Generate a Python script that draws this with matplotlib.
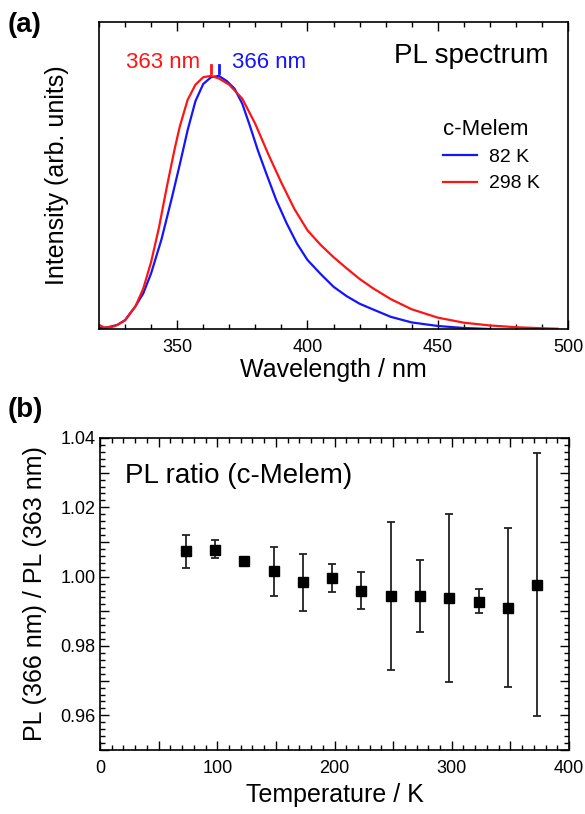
import numpy as np
import matplotlib.pyplot as plt
from matplotlib.ticker import MultipleLocator, FuncFormatter

plt.rcParams['font.family'] = ['Liberation Sans', 'DejaVu Sans']

# PL spectrum, 82 K (normalized)
wl_82 = [320, 323, 327, 330, 334, 337, 340, 344, 348, 351, 354, 357, 360, 363, 366,
         369, 372, 375, 378, 381, 384, 388, 392, 396, 400, 405, 410, 415, 420, 425,
         432, 440, 450, 460, 470]
pl_82 = [0.003, 0.006, 0.016, 0.035, 0.09, 0.141, 0.22, 0.355, 0.52, 0.65, 0.785, 0.9,
         0.968, 0.995, 1.0, 0.98, 0.95, 0.89, 0.80, 0.705, 0.62, 0.51, 0.418, 0.337,
         0.273, 0.218, 0.167, 0.13, 0.10, 0.078, 0.048, 0.026, 0.012, 0.004, 0.0]

# PL spectrum, 298 K (normalized)
wl_298 = [320, 322, 325, 327, 330, 334, 337, 340, 343, 346, 349, 351, 354, 357,
          360, 363, 366, 370, 375, 380, 385, 390, 395, 400, 405, 410, 415, 420, 425,
          432, 440, 450, 460, 470, 480, 490, 496]
pl_298 = [0.016, 0.006, 0.008, 0.016, 0.034, 0.09, 0.16, 0.265, 0.40, 0.56, 0.71,
          0.80, 0.905, 0.965, 0.995, 1.0, 0.99, 0.965, 0.91, 0.81, 0.69, 0.578, 0.474,
          0.39, 0.333, 0.284, 0.24, 0.198, 0.162, 0.118, 0.078, 0.045, 0.025, 0.014,
          0.007, 0.003, 0.001]

# PL ratio vs temperature
temp = [73, 98, 123, 148, 173, 198, 223, 248, 273, 298, 323, 348, 373]
ratio = [1.0073, 1.0078, 1.0046, 1.0015, 0.9984, 0.9995, 0.9960, 0.9943, 0.9944,
         0.9938, 0.9927, 0.9910, 0.9977]
ratio_lo = [1.0025, 1.0053, 1.0043, 0.9945, 0.9902, 0.9955, 0.9906, 0.9730, 0.9840,
            0.9697, 0.9895, 0.9681, 0.9598]
ratio_hi = [1.0120, 1.0105, 1.0049, 1.0086, 1.0065, 1.0037, 1.0014, 1.0157, 1.0049,
            1.0180, 0.9963, 1.0141, 1.0357]

fig = plt.figure(figsize=(5.85, 8.14), dpi=100)

# ---- (a) PL spectrum
ax1 = fig.add_axes([99/585, 1-329/814, 469/585, 307/814])
ax1.plot(wl_82, pl_82, color='#1414ff', lw=1.6, label='82 K')
ax1.plot(wl_298, pl_298, color='#ff1414', lw=1.6, label='298 K')
ax1.set_xlim(320, 500)
ax1.set_ylim(0, 1.213)
ax1.xaxis.set_major_locator(MultipleLocator(50))
ax1.xaxis.set_minor_locator(MultipleLocator(10))
ax1.tick_params(axis='x', which='both', direction='in', top=True, labelsize=13, pad=7)
ax1.tick_params(axis='x', which='major', length=6.5, width=1)
ax1.tick_params(axis='x', which='minor', length=3.5, width=1)
ax1.tick_params(axis='y', which='both', left=False, right=False, labelleft=False)
for s in ax1.spines.values():
    s.set_linewidth(1.2)
ax1.set_xlabel('Wavelength / nm', fontsize=18)
ax1.xaxis.set_label_coords(0.5, -0.094)
ax1.set_ylabel('Intensity (arb. units)', fontsize=18)
ax1.yaxis.set_label_coords(-0.064, 0.5)

ax1.plot([363, 363], [1.013, 1.045], color='#ff1414', lw=2)
ax1.plot([366, 366], [1.013, 1.045], color='#1414ff', lw=2)
ax1.text(358.8, 1.032, '363 nm', color='#ff1414', fontsize=16, ha='right', va='baseline')
ax1.text(371, 1.032, '366 nm', color='#1414ff', fontsize=16, ha='left', va='baseline')
ax1.text(0.629, 0.866, 'PL spectrum', transform=ax1.transAxes, fontsize=20,
         ha='left', va='baseline')

leg = ax1.legend(title='c-Melem', loc='upper left', bbox_to_anchor=(0.734, 0.685),
                 frameon=False, fontsize=14, title_fontsize=16, handlelength=1.75,
                 handletextpad=0.6, labelspacing=0.45, borderpad=0, borderaxespad=0,
                 alignment='left')

# ---- (b) PL ratio
ax2 = fig.add_axes([100/585, 1-750/814, 469/585, 312/814])
yerr = [np.array(ratio) - np.array(ratio_lo), np.array(ratio_hi) - np.array(ratio)]
ax2.errorbar(temp, ratio, yerr=yerr, fmt='s', color='black', ecolor='#222222',
             markersize=6.5, elinewidth=1.3, capsize=3, capthick=1.3)
ax2.set_xlim(0, 400)
ax2.set_ylim(0.95, 1.04)
ax2.xaxis.set_major_locator(MultipleLocator(50))
ax2.xaxis.set_minor_locator(MultipleLocator(10))
ax2.xaxis.set_major_formatter(FuncFormatter(lambda v, p: '%d' % v if v % 100 == 0 else ''))
ax2.yaxis.set_major_locator(MultipleLocator(0.01))
ax2.yaxis.set_minor_locator(MultipleLocator(0.002))
ax2.yaxis.set_major_formatter(FuncFormatter(
    lambda v, p: '%.2f' % v if round(v * 100) % 2 == 0 else ''))
ax2.tick_params(which='both', direction='in', top=True, right=True, labelsize=13)
ax2.tick_params(which='major', length=6.5, width=1)
ax2.tick_params(which='minor', length=3.5, width=1)
ax2.tick_params(axis='x', pad=7)
ax2.tick_params(axis='y', pad=3)
for s in ax2.spines.values():
    s.set_linewidth(1.2)
ax2.set_xlabel('Temperature / K', fontsize=18)
ax2.xaxis.set_label_coords(0.5, -0.106)
ax2.set_ylabel('PL (366 nm) / PL (363 nm)', fontsize=18)
ax2.yaxis.set_label_coords(-0.113, 0.5)
ax2.text(0.053, 0.855, 'PL ratio (c-Melem)', transform=ax2.transAxes, fontsize=20,
         ha='left', va='baseline')

fig.text(0.013, 1-25/814, '(a)', fontsize=20, fontweight='bold', ha='left', va='center')
fig.text(0.013, 1-410/814, '(b)', fontsize=20, fontweight='bold', ha='left', va='center')

fig.savefig('out.png', dpi=100)
